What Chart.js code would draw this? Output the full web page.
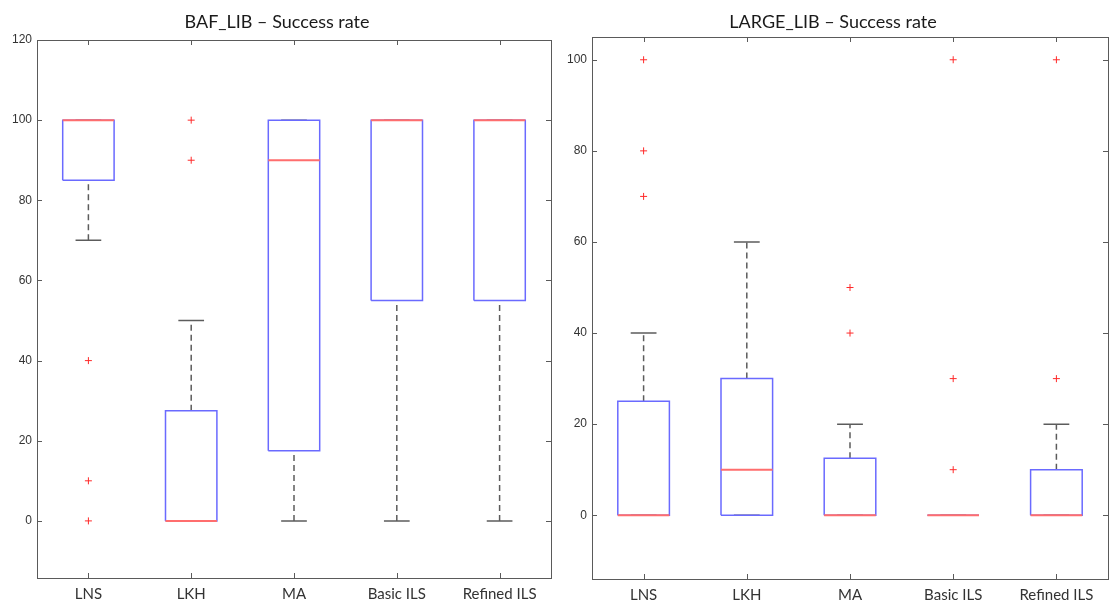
<!DOCTYPE html>
<html>
<head>
<meta charset="utf-8">
<script src="https://cdn.jsdelivr.net/npm/chart.js@4.4.1/dist/chart.umd.min.js"></script>
<style>
  html, body { margin: 0; padding: 0; background: #fff; }
  #wrap { position: relative; width: 1113px; height: 605px; }
  #baf { position: absolute; left: 0; top: 0; }
  #large { position: absolute; left: 556px; top: 0; }
</style>
</head>
<body>
<div id="wrap">
  <canvas id="baf" width="556" height="605"></canvas>
  <canvas id="large" width="557" height="605"></canvas>
</div>
<script>
const categories = ['LNS', 'LKH', 'MA', 'Basic ILS', 'Refined ILS'];

// BAF_LIB
const bafLow = [70, 0, 0, 0, 0];
const bafQ1 = [85, 0, 17.5, 55, 55];
const bafMedian = [100, 0, 90, 100, 100];
const bafQ3 = [100, 27.5, 100, 100, 100];
const bafHigh = [100, 50, 100, 100, 100];
const bafOutliers = [[40, 10, 0], [100, 90], [], [], []];
const bafTicks = [0, 20, 40, 60, 80, 100, 120];

// LARGE_LIB
const largeLow = [0, 0, 0, 0, 0];
const largeQ1 = [0, 0, 0, 0, 0];
const largeMedian = [0, 10, 0, 0, 0];
const largeQ3 = [25, 30, 12.5, 0, 10];
const largeHigh = [40, 60, 20, 0, 20];
const largeOutliers = [[100, 80, 70], [], [50, 40], [100, 30, 10], [100, 30]];
const largeTicks = [0, 20, 40, 60, 80, 100];

const BOX_HALF = 0.25;
const CAP_HALF = 0.125;

// draws MATLAB style ticks pointing into the box on all four sides + the box frame
const innerTicks = {
  id: 'innerTicks',
  afterDraw(chart) {
    const ctx = chart.ctx;
    const a = chart.chartArea;
    const len = 5;
    ctx.save();
    ctx.strokeStyle = '#5a5a5a';
    ctx.lineWidth = 1;
    ctx.beginPath();
    chart.scales.x.ticks.forEach(t => {
      const px = Math.round(chart.scales.x.getPixelForValue(t.value)) + 0.5;
      ctx.moveTo(px, a.bottom); ctx.lineTo(px, a.bottom - len);
      ctx.moveTo(px, a.top); ctx.lineTo(px, a.top + len);
    });
    chart.scales.y.ticks.forEach(t => {
      const py = Math.round(chart.scales.y.getPixelForValue(t.value)) + 0.5;
      ctx.moveTo(a.left, py); ctx.lineTo(a.left + len, py);
      ctx.moveTo(a.right, py); ctx.lineTo(a.right - len, py);
    });
    ctx.stroke();
    ctx.strokeRect(Math.round(a.left) + 0.5, Math.round(a.top) + 0.5,
      Math.round(a.right - a.left), Math.round(a.bottom - a.top));
    ctx.restore();
  }
};

function segments(list) {
  // list of [[x1,y1],[x2,y2]] -> points with null breaks
  const pts = [];
  list.forEach(s => {
    s.forEach(p => pts.push({x: p[0], y: p[1]}));
    pts.push({x: s[0][0], y: null});
  });
  return pts;
}

function makeBoxChart(id, title, low, q1, med, q3, high, outliers, ticks, yMin, yMax, geo) {
  const boxes = [], medians = [], whiskers = [], caps = [], outs = [];
  categories.forEach((c, k) => {
    const i = k + 1;
    boxes.push([[i - BOX_HALF, q1[k]], [i + BOX_HALF, q1[k]], [i + BOX_HALF, q3[k]], [i - BOX_HALF, q3[k]], [i - BOX_HALF, q1[k]]]);
    medians.push([[i - BOX_HALF, med[k]], [i + BOX_HALF, med[k]]]);
    if (high[k] > q3[k]) whiskers.push([[i, q3[k]], [i, high[k]]]);
    if (low[k] < q1[k]) whiskers.push([[i, low[k]], [i, q1[k]]]);
    caps.push([[i - CAP_HALF, high[k]], [i + CAP_HALF, high[k]]]);
    caps.push([[i - CAP_HALF, low[k]], [i + CAP_HALF, low[k]]]);
    outliers[k].forEach(v => outs.push({x: i, y: v}));
  });

  const lineDefaults = { type: 'line', pointRadius: 0, tension: 0, fill: false, spanGaps: false };

  return new Chart(document.getElementById(id), {
    type: 'line',
    data: {
      datasets: [
        { type: 'scatter', data: outs, pointStyle: 'cross', pointRadius: 3.5,
          pointBorderColor: '#ff2a2a', pointBorderWidth: 1, showLine: false },
        Object.assign({ data: segments(medians), borderColor: '#ff6e6e', borderWidth: 2 }, lineDefaults),
        Object.assign({ data: segments(boxes), borderColor: '#6a6aff', borderWidth: 1.5 }, lineDefaults),
        Object.assign({ data: segments(caps), borderColor: '#5c5c5c', borderWidth: 1.5 }, lineDefaults),
        Object.assign({ data: segments(whiskers), borderColor: '#5c5c5c', borderWidth: 1.5, borderDash: [6, 4] }, lineDefaults)
      ]
    },
    options: {
      responsive: false,
      animation: false,
      events: [],
      layout: { padding: { left: 0, right: geo.padRight, top: 0, bottom: 0 } },
      plugins: {
        legend: { display: false },
        tooltip: { enabled: false },
        title: {
          display: true,
          text: title,
          color: '#1a1a1a',
          font: { family: 'Lato', size: 18, weight: 'normal' },
          padding: { top: geo.titleTop, bottom: geo.titleBottom }
        }
      },
      scales: {
        x: {
          type: 'linear',
          min: 0.5,
          max: 5.5,
          afterBuildTicks: s => { s.ticks = categories.map((c, k) => ({ value: k + 1 })); },
          afterFit: s => { s.height = geo.xHeight; },
          grid: { display: false, drawTicks: false },
          border: { display: false },
          ticks: {
            padding: 7,
            color: '#333',
            font: { family: 'Lato', size: 15 },
            maxRotation: 0,
            autoSkip: false,
            callback: v => categories[v - 1]
          }
        },
        y: {
          type: 'linear',
          min: yMin,
          max: yMax,
          afterBuildTicks: s => { s.ticks = ticks.map(v => ({ value: v })); },
          afterFit: s => { s.width = geo.yWidth; },
          grid: { display: false, drawTicks: false },
          border: { display: false },
          ticks: {
            padding: 5,
            color: '#333',
            font: { family: 'Liberation Sans', size: 12 }
          }
        }
      }
    },
    plugins: [innerTicks]
  });
}

makeBoxChart('baf', 'BAF_LIB \u2013 Success rate', bafLow, bafQ1, bafMedian, bafQ3, bafHigh, bafOutliers,
  bafTicks, -14.25, 120, { padRight: 2, titleTop: 11, titleBottom: 7.4, xHeight: 27, yWidth: 37 });

makeBoxChart('large', 'LARGE_LIB \u2013 Success rate', largeLow, largeQ1, largeMedian, largeQ3, largeHigh, largeOutliers,
  largeTicks, -14, 105, { padRight: 3, titleTop: 11, titleBottom: 4.4, xHeight: 26, yWidth: 36 });
</script>
</body>
</html>
